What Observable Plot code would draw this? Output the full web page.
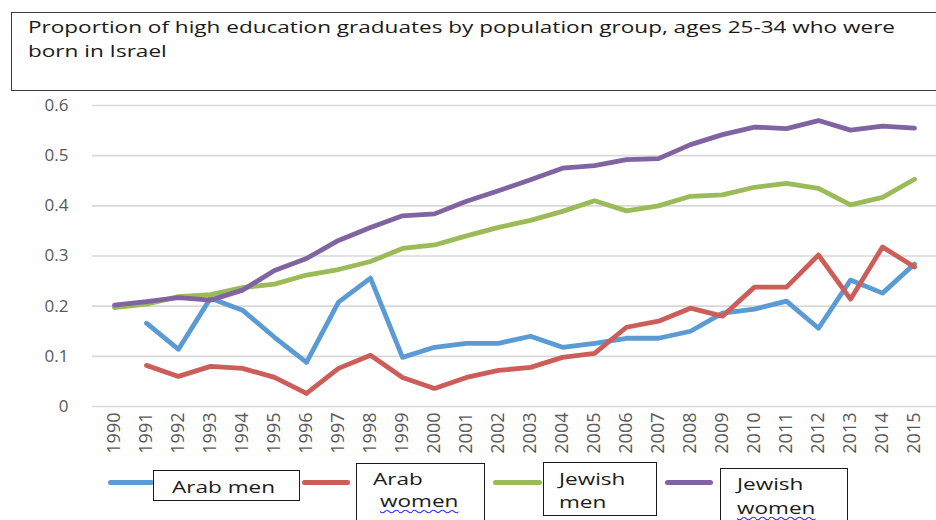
<!DOCTYPE html>
<html>
<head>
<meta charset="utf-8">
<script src="https://cdn.jsdelivr.net/npm/d3@7"></script>
<script src="https://cdn.jsdelivr.net/npm/@observablehq/plot@0.6"></script>
<style>
  html, body { margin: 0; padding: 0; background: #fff; }
  #wrap { position: relative; width: 936px; height: 520px; overflow: hidden; background: #fff;
          font-family: "Open Sans", sans-serif; color: #000; }
  #chart { position: absolute; left: 0; top: 0; }
  .tbox { position: absolute; left: 11px; top: 12px; width: 940px; height: 79px;
          border: 1.3px solid #3a3a3a; box-sizing: border-box; background: #fff; }
  .txt { position: absolute; white-space: nowrap; font-size: 17px; line-height: 24px;
         transform-origin: 0 0; color: #1a1a1a; }
  .lbox { position: absolute; border: 1.2px solid #1a1a1a; box-sizing: border-box; background: #fff; }
  .lline { position: absolute; height: 5px; border-radius: 3px; }
  .wavy { text-decoration: underline wavy #2b2bff; text-decoration-thickness: 1px; text-underline-offset: 2px; }
</style>
</head>
<body>
<div id="wrap"></div>
<script>
// ---- data ----
const years = [1990,1991,1992,1993,1994,1995,1996,1997,1998,1999,2000,2001,2002,2003,2004,2005,2006,2007,2008,2009,2010,2011,2012,2013,2014,2015];
const yTicks = [0, 0.1, 0.2, 0.3, 0.4, 0.5, 0.6];
const seriesNames = ["Arab men", "Arab women", "Jewish men", "Jewish women"];
const arabMen    = [null, 0.166, 0.114, 0.216, 0.192, 0.138, 0.088, 0.208, 0.256, 0.098, 0.118, 0.126, 0.126, 0.140, 0.118, 0.126, 0.136, 0.136, 0.150, 0.186, 0.194, 0.210, 0.156, 0.252, 0.226, 0.284];
const arabWomen  = [null, 0.082, 0.060, 0.080, 0.076, 0.058, 0.026, 0.076, 0.102, 0.058, 0.036, 0.058, 0.072, 0.078, 0.098, 0.106, 0.158, 0.170, 0.196, 0.180, 0.238, 0.238, 0.302, 0.214, 0.318, 0.278];
const jewishMen  = [0.197, 0.204, 0.219, 0.223, 0.237, 0.244, 0.262, 0.273, 0.289, 0.315, 0.322, 0.340, 0.357, 0.371, 0.389, 0.410, 0.390, 0.400, 0.419, 0.422, 0.437, 0.445, 0.435, 0.402, 0.417, 0.453];
const jewishWomen= [0.202, 0.209, 0.217, 0.212, 0.232, 0.271, 0.295, 0.331, 0.357, 0.380, 0.384, 0.409, 0.430, 0.452, 0.475, 0.480, 0.492, 0.494, 0.522, 0.542, 0.557, 0.554, 0.570, 0.551, 0.559, 0.555];
const titleLines = ["Proportion of high education graduates by population group, ages 25-34 who were", "born in Israel"];
const colors = ["#5B9BD5", "#CD5D58", "#9BBB59", "#8064A2"];

const seriesValues = [arabMen, arabWomen, jewishMen, jewishWomen];
const long = [];
seriesNames.forEach((name, s) => {
  seriesValues[s].forEach((v, i) => {
    if (v != null) long.push({series: name, year: years[i], value: v});
  });
});

const wrap = document.getElementById("wrap");

const chart = Plot.plot({
  width: 936,
  height: 520,
  marginTop: 105,
  marginBottom: 114,
  marginLeft: 92,
  marginRight: 0,
  x: {type: "point", domain: years, padding: 0.46},
  y: {domain: [0, 0.6]},
  color: {domain: seriesNames, range: colors},
  style: {fontFamily: "'Open Sans', sans-serif", background: "transparent", overflow: "visible"},
  marks: [
    Plot.ruleY(yTicks, {stroke: "#d9d9d9", strokeWidth: 1.6}),
    Plot.axisY({ticks: yTicks, tickSize: 0, tickPadding: 24, fontSize: 17, fill: "#595959", label: null,
                tickFormat: d => d === 0 ? "0" : d.toFixed(1)}),
    Plot.axisX({tickSize: 0, tickPadding: 6, tickRotate: -90, fontSize: 18, fill: "#595959", label: null,
                tickFormat: d => String(d)}),
    Plot.line(long, {x: "year", y: "value", z: "series", stroke: "series",
                     strokeWidth: 4.8, strokeLinejoin: "round", strokeLinecap: "round"})
  ]
});
chart.id = "chart";
wrap.appendChild(chart);

// ---- title box ----
const tbox = document.createElement("div");
tbox.className = "tbox";
wrap.appendChild(tbox);

function addText(str, left, baseline, cls) {
  const d = document.createElement("div");
  d.className = "txt" + (cls ? " " + cls : "");
  d.style.left = left + "px";
  d.style.top = (baseline - 18.6) + "px";
  d.textContent = str;
  wrap.appendChild(d);
  return d;
}
const t1 = addText(titleLines[0], 28, 34);
const t2 = addText(titleLines[1], 28, 58);
const k = 867 / t1.getBoundingClientRect().width;
t1.style.transform = `scaleX(${k})`;
t2.style.transform = `scaleX(${k})`;

// ---- legend ----
function addBox(l, t, w, h) {
  const b = document.createElement("div");
  b.className = "lbox";
  Object.assign(b.style, {left: l + "px", top: t + "px", width: w + "px", height: h + "px"});
  wrap.appendChild(b);
}
function addLine(l, w, color) {
  const e = document.createElement("div");
  e.className = "lline";
  Object.assign(e.style, {left: l + "px", top: "480px", width: w + "px", background: color});
  wrap.appendChild(e);
}
addLine(108, 46, colors[0]);
addBox(153, 470, 147, 31);
addLine(302, 48, colors[1]);
addBox(356, 463, 129, 70);
addLine(493, 49, colors[2]);
addBox(543, 462, 114, 54);
addLine(665, 48, colors[3]);
addBox(720, 468, 128, 70);

const lt = [
  addText("Arab men", 172, 494),
  addText("Arab", 373, 486),
  addText("women", 380, 508, "wavy"),
  addText("Jewish", 559, 486),
  addText("men", 559, 509),
  addText("Jewish", 737, 491),
  addText("women", 737, 515, "wavy")
];
lt.forEach(e => e.style.transform = `scaleX(${k})`);
</script>
</body>
</html>
